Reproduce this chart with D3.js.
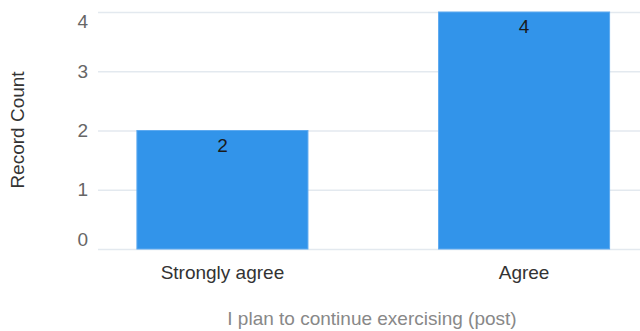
<!DOCTYPE html>
<html>
<head>
<meta charset="utf-8">
<script src="https://cdn.jsdelivr.net/npm/d3@7"></script>
<style>
  html, body { margin: 0; padding: 0; background: #fff; }
  svg { display: block; font-family: "Liberation Sans", Arial, sans-serif; }
</style>
</head>
<body>
<svg id="chart" width="640" height="331"></svg>
<script>
// Responses to "I plan to continue exercising (post)"
const categories = ["Strongly agree", "Agree"];
const counts = [2, 4];
const yTicks = [0, 1, 2, 3, 4];
const xTitle = "I plan to continue exercising (post)";
const yTitle = "Record Count";

const W = 640, H = 331;
const plot = { left: 98, right: 648.5, top: 12, bottom: 249 };
const fontSize = 19;

const svg = d3.select("#chart");

const x = d3.scaleBand()
  .domain(categories)
  .range([plot.left, plot.right])
  .paddingInner(0.433)
  .paddingOuter(0.129);

const y = d3.scaleLinear()
  .domain([0, 4])
  .range([plot.bottom, plot.top]);

// horizontal grid lines
svg.append("g")
  .selectAll("line")
  .data(yTicks)
  .join("line")
  .attr("x1", plot.left)
  .attr("x2", W)
  .attr("y1", d => y(d) + 0.5)
  .attr("y2", d => y(d) + 0.5)
  .attr("stroke", "#e3e9ef")
  .attr("stroke-width", 1.5);

// y tick labels, kept inside the plot's vertical extent
const labelH = 19;
svg.append("g")
  .selectAll("text")
  .data(yTicks)
  .join("text")
  .attr("x", 88)
  .attr("y", d => Math.min(Math.max(y(d), plot.top + labelH / 2), plot.bottom - labelH / 2))
  .attr("dy", "0.35em")
  .attr("text-anchor", "end")
  .attr("fill", "#666")
  .attr("font-size", fontSize)
  .text(d => d);

// bars
svg.append("g")
  .selectAll("rect")
  .data(categories)
  .join("rect")
  .attr("x", d => x(d))
  .attr("width", x.bandwidth())
  .attr("y", (d, i) => y(counts[i]))
  .attr("height", (d, i) => y(0) - y(counts[i]))
  .attr("fill", "#3294ea")
  .attr("stroke", "#5eaaf0")
  .attr("stroke-width", 1);

// value labels inside bar tops
svg.append("g")
  .selectAll("text")
  .data(categories)
  .join("text")
  .attr("x", d => x(d) + x.bandwidth() / 2)
  .attr("y", (d, i) => y(counts[i]) + 21)
  .attr("text-anchor", "middle")
  .attr("fill", "#1a1a1a")
  .attr("font-size", fontSize)
  .text((d, i) => counts[i]);

// category labels
svg.append("g")
  .selectAll("text")
  .data(categories)
  .join("text")
  .attr("x", d => x(d) + x.bandwidth() / 2)
  .attr("y", 279)
  .attr("text-anchor", "middle")
  .attr("fill", "#333")
  .attr("font-size", fontSize)
  .text(d => d);

// axis titles
svg.append("text")
  .attr("x", (plot.left + W) / 2 + 3)
  .attr("y", 325)
  .attr("text-anchor", "middle")
  .attr("fill", "#888")
  .attr("font-size", fontSize)
  .text(xTitle);

svg.append("text")
  .attr("transform", `translate(24, 130) rotate(-90)`)
  .attr("text-anchor", "middle")
  .attr("fill", "#333")
  .attr("font-size", fontSize)
  .text(yTitle);
</script>
</body>
</html>
